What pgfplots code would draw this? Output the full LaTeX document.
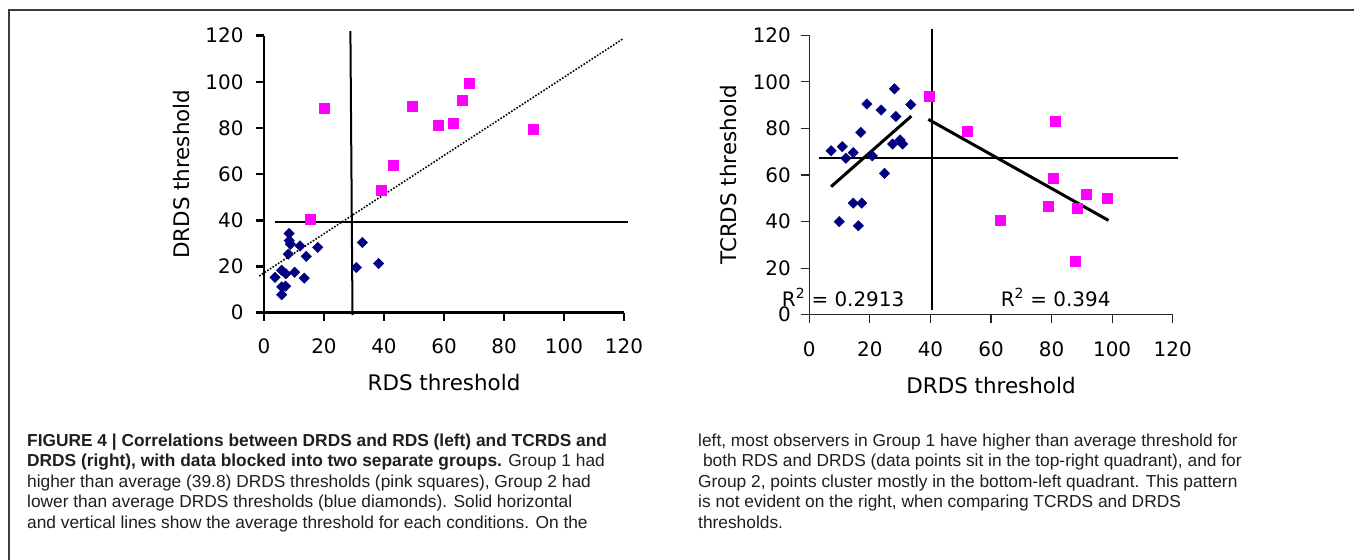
\documentclass[border=0pt]{standalone}
\usepackage{pgfplots}
\pgfplotsset{compat=1.18}
\usepackage{fontspec}
\setmainfont{DejaVu Sans}
\newfontfamily\capfont{Liberation Sans}
\definecolor{navyb}{RGB}{0,0,128}
\definecolor{pinkm}{RGB}{255,0,255}
\definecolor{framec}{RGB}{60,60,60}

\pgfplotstableread{
x y
8.4 34.3
8.4 31.2
8.8 29.7
8.1 25.4
12.0 28.9
17.9 28.3
14.1 24.4
3.7 15.3
5.9 18.4
7.3 16.9
10.2 17.5
13.4 15.0
5.9 11.2
7.2 11.5
5.9 7.8
30.8 19.6
32.8 30.4
38.2 21.3
}\leftblue

\pgfplotstableread{
x y
15.3 40.4
19.9 88.5
38.9 53.1
43.0 63.7
49.4 89.4
58.2 81.4
63.1 81.9
66.2 92.1
68.5 99.4
89.7 79.7
}\leftpink

\pgfplotstableread{
x y
7.2 70.4
10.9 72.2
12.1 67.2
14.5 69.6
17.0 78.3
19.0 90.5
20.8 68.2
23.7 87.9
24.8 60.7
28.1 97.0
28.6 85.1
27.5 73.3
30.0 75.0
30.8 73.3
33.5 90.2
9.9 40.0
14.5 47.9
17.3 47.9
16.2 38.2
}\rightblue

\pgfplotstableread{
x y
39.5 93.7
52.3 78.8
62.9 40.5
78.8 46.4
80.6 58.6
81.1 83.3
88.6 45.7
91.3 51.6
98.4 50.1
87.9 22.8
}\rightpink

\pgfplotsset{
  scatstyle/.style={
    scale only axis, clip=false,
    xmin=0, xmax=120, ymin=0, ymax=120,
    xtick={0,20,...,120}, ytick={0,20,...,120},
    axis x line*=bottom, axis y line*=left,
    axis line style={-},
    tick align=outside,
    major tick length=8bp,
    /pgf/number format/assume math mode=true,
    tick label style={font=\fontsize{20}{24}\selectfont, text=black},
    label style={font=\fontsize{21.5}{26}\selectfont},
  },
  bluemk/.style={only marks, mark=square*, mark size=3.7bp,
    mark options={rotate=45, fill=navyb, draw=navyb}},
  pinkmk/.style={only marks, mark=square*, mark size=5bp,
    mark options={fill=pinkm, draw=pinkm}},
}

\begin{document}
\begin{tikzpicture}
\path[use as bounding box] (0,0) rectangle (1354bp,560bp);
\fill[white] (0,0) rectangle (1354bp,560bp);
\draw[framec, line width=1.5bp] (9bp,-1bp) -- (9bp,550bp) -- (1355bp,550bp);

% ---------------- left plot ----------------
\begin{axis}[scatstyle,
  at={(264bp,247.3bp)}, anchor=south west,
  width=360bp, height=277bp,
  axis line style={line width=2.5bp, -},
  tick style={line width=2.5bp, black},
  xticklabel style={yshift=-14bp},
  yticklabel style={xshift=-9bp},
  xlabel={RDS threshold}, ylabel={DRDS threshold},
  xlabel style={at={(axis description cs:0.5,-0.2527)}, anchor=center},
  ylabel style={at={(axis description cs:-0.2286,0.5)}, anchor=center},
]
\addplot[black, line width=2bp] coordinates {(3.7,39.5) (121.3,39.5)};
\addplot[black, line width=2bp] coordinates {(28.8,122) (29.5,-1)};
\addplot[black, line width=1.6bp, dash pattern=on 1.6bp off 1.6bp] coordinates {(-1.6,15.9) (119.6,118.6)};
\addplot[bluemk] table {\leftblue};
\addplot[pinkmk] table {\leftpink};
\end{axis}

% ---------------- right plot ----------------
\begin{axis}[scatstyle,
  at={(809.3bp,245.3bp)}, anchor=south west,
  width=363.4bp, height=279.4bp,
  axis line style={line width=1.2bp, black!85, -},
  tick style={line width=1.2bp, black!85},
  xticklabel style={yshift=-15bp},
  yticklabel style={xshift=-7bp},
  xlabel={DRDS threshold}, ylabel={TCRDS threshold},
  xlabel style={at={(axis description cs:0.5,-0.255)}, anchor=center},
  ylabel style={at={(axis description cs:-0.2237,0.5)}, anchor=center},
]
\addplot[black, line width=2bp] coordinates {(3.2,67.2) (121.7,67.2)};
\addplot[black, line width=2bp] coordinates {(40.6,122.6) (40.6,2.0)};
\addplot[bluemk] table {\rightblue};
\addplot[pinkmk] table {\rightpink};
\addplot[black, line width=3bp] coordinates {(7.2,55.0) (33.7,85.3)};
\addplot[black, line width=3bp] coordinates {(39.3,83.9) (98.8,40.5)};
\node[anchor=base west, font=\fontsize{20}{24}\selectfont, inner sep=0pt] at (axis cs:-9.1,3.7) {R\textsuperscript{2} = 0.2913};
\node[anchor=base west, font=\fontsize{20}{24}\selectfont, inner sep=0pt] at (axis cs:63.2,3.7) {R\textsuperscript{2} = 0.394};
\end{axis}

% ---------------- caption ----------------
\begin{scope}[every node/.style={anchor=base west, inner sep=0pt, font=\capfont\fontsize{17.4}{20}\selectfont, text=black!88}]
\node at (27bp,113.8bp) {\bfseries FIGURE 4 | Correlations between DRDS and RDS (left) and TCRDS and};
\node at (27bp,93.3bp) {{\bfseries DRDS (right), with data blocked into two separate groups.} Group 1 had};
\node at (27bp,72.8bp) {higher than average (39.8) DRDS thresholds (pink squares), Group 2 had};
\node at (27bp,52.3bp) {lower than average DRDS thresholds (blue diamonds). Solid horizontal};
\node at (27bp,31.8bp) {and vertical lines show the average threshold for each conditions. On the};
\node at (698bp,113.8bp) {left, most observers in Group 1 have higher than average threshold for};
\node at (698bp,93.3bp) {\ both RDS and DRDS (data points sit in the top-right quadrant), and for};
\node at (698bp,72.8bp) {Group 2, points cluster mostly in the bottom-left quadrant. This pattern};
\node at (698bp,52.3bp) {is not evident on the right, when comparing TCRDS and DRDS};
\node at (698bp,31.8bp) {thresholds.};
\end{scope}
\end{tikzpicture}
\end{document}
